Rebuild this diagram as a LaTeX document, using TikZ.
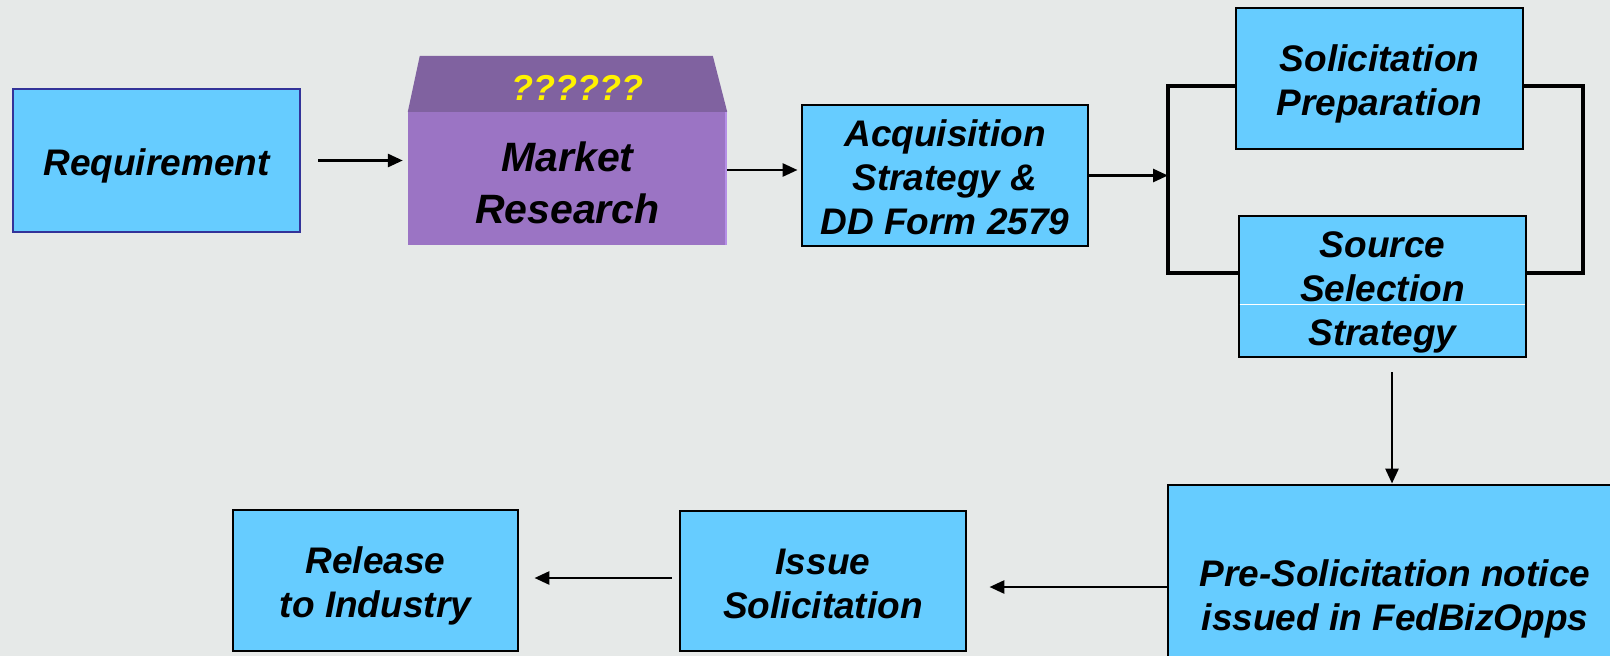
\documentclass[tikz,border=0pt]{standalone}
\usepackage{fontspec}
\setmainfont{Liberation Sans}
\usetikzlibrary{arrows.meta}
\definecolor{bg}{HTML}{E6E9E8}
\definecolor{boxblue}{HTML}{66CCFF}
\definecolor{mrfront}{HTML}{9B74C4}
\definecolor{mrtop}{HTML}{8062A0}
\definecolor{mredge}{HTML}{B58FE6}
\definecolor{reqborder}{HTML}{333399}
\newcommand\lowtext[2][-6.5pt]{\raisebox{#1}[\height][\depth]{\begin{tabular}{@{}c@{}}#2\end{tabular}}}
\begin{document}
\begin{tikzpicture}[x=1pt,y=-1pt,
  box/.style={draw=black, fill=boxblue, line width=2.9pt, minimum width=286pt,
    minimum height=141pt, inner sep=0pt,
    font=\fontsize{37}{44}\selectfont\bfseries\itshape},
  arr/.style={line width=2.8pt, -{Triangle[length=15pt,width=13pt]}},
  link/.style={line width=3.2pt}]
\fill[bg] (0,0) rectangle (1610,656);
\useasboundingbox (0,0) rectangle (1610,656);
\clip (0,0) rectangle (1610,656);

% boxes
\node[box, draw=reqborder, line width=2.8pt, minimum width=287pt, minimum height=143pt] (req) at (156.5,160.5) {\lowtext{Requirement}};
\node[fill=mrfront, minimum width=319pt, minimum height=133pt, inner sep=0pt,
  font=\fontsize{41}{52}\selectfont\bfseries\itshape] (mr) at (567.5,178.5) {\lowtext[-9pt]{Market\\Research}};
\fill[mrtop] (mr.north west) -- ++(12,-56) -- ++(293,0) -- (mr.north east) -- cycle;
\draw[mredge, line width=2pt] ([xshift=-1pt]mr.north east) -- ([xshift=-1pt]mr.south east);
\node[text=yellow, font=\fontsize{36}{44}\selectfont\bfseries\itshape] (q) at (577,88) {??????};
\node[box] (acq) at (945,175.5) {\lowtext{Acquisition\\Strategy \&\\DD Form 2579}};
\node[box, minimum width=287pt] (sp) at (1379.5,78.5) {\lowtext{Solicitation\\Preparation}};
\node[box, minimum width=287pt] (ss) at (1382.5,286.5) {\lowtext{Source\\Selection\\Strategy}};
\node[box, minimum width=454pt, minimum height=220pt] (ps) at (1395,595) {\lowtext[-5pt]{Pre-Solicitation notice\\issued in FedBizOpps}};
\node[box, minimum height=140pt] (is) at (823,581) {\lowtext{Issue\\Solicitation}};
\node[box, minimum width=285pt] (rel) at (375.5,580.5) {\lowtext{Release\\to Industry}};

% white line inside source selection box
\coordinate (sw) at (0,304);
\draw[white, line width=1pt] ([xshift=2pt]ss.west |- sw) -- ([xshift=-2pt]ss.east |- sw);

% bracket
\coordinate (tl) at (1168,86);
\coordinate (bl) at (1168,273);
\coordinate (tr) at (1583,86);
\coordinate (br) at (1583,273);
\draw[link] (sp.west |- tl) -- (tl) -- (bl) -- (ss.west |- bl);
\draw[link] (sp.east |- tr) -- (tr) -- (br) -- (ss.east |- br);

% arrows
\coordinate (m2a) at (0,170);
\coordinate (dx) at (1392,0);
\coordinate (pi) at (0,587);
\coordinate (ir) at (0,578);
\draw[arr] ([xshift=17pt]req.east) -- ([xshift=-5pt]req.east -| mr.west);
\draw[arr] (mr.east |- m2a) -- ([xshift=-3pt]acq.west |- m2a);
\draw[arr] (acq.east) -- (acq.east -| tl);
\draw[arr] ([yshift=-14pt]ss.south -| dx) -- (ps.north -| dx);
\draw[arr] (ps.west |- pi) -- ([xshift=22pt]is.east |- pi);
\draw[arr] ([xshift=-7pt]is.west |- ir) -- ([xshift=15pt]rel.east |- ir);
\end{tikzpicture}
\end{document}
